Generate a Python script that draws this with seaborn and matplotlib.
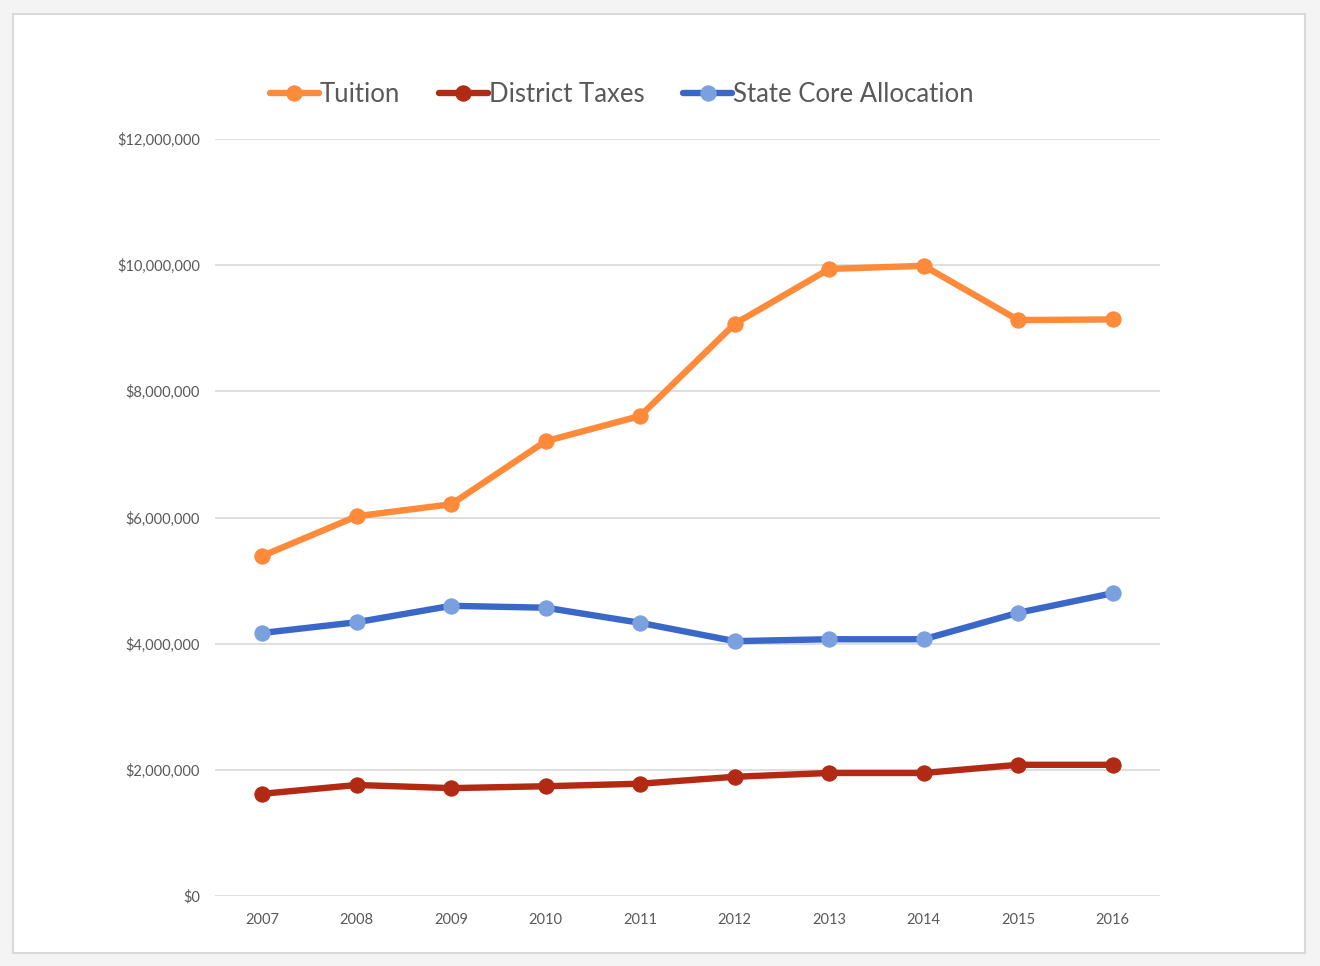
import matplotlib
matplotlib.use("Agg")
import matplotlib.pyplot as plt
import matplotlib.patches as mpatches
from matplotlib.ticker import FuncFormatter
import numpy as np
import pandas as pd
import seaborn as sns

# Data
years = [2007, 2008, 2009, 2010, 2011, 2012, 2013, 2014, 2015, 2016]
tuition = [5.39e6, 6.02e6, 6.21e6, 7.21e6, 7.61e6, 9.07e6, 9.94e6, 9.99e6, 9.13e6, 9.14e6]
district_taxes = [1.62e6, 1.76e6, 1.71e6, 1.74e6, 1.78e6, 1.89e6, 1.95e6, 1.95e6, 2.08e6, 2.08e6]
state_core = [4.17e6, 4.34e6, 4.60e6, 4.57e6, 4.33e6, 4.04e6, 4.07e6, 4.07e6, 4.49e6, 4.80e6]

series_names = ["Tuition", "District Taxes", "State Core Allocation"]
line_colors = ["#FF8A3A", "#B32A14", "#3A68C8"]
marker_colors = ["#FF8A3A", "#B32A14", "#7BA0E0"]

df = pd.DataFrame({
    "Year": years * 3,
    "Amount": tuition + district_taxes + state_core,
    "Series": sum([[n] * len(years) for n in series_names], []),
})

sns.set_theme(style="white")
plt.rcParams["font.family"] = ["Lato", "DejaVu Sans"]

fig = plt.figure(figsize=(13.2, 9.66), dpi=100, facecolor="#f4f4f4")
# white chart panel with thin grey border
fig.patches.append(mpatches.Rectangle(
    (13 / 1320, 1 - 953 / 966), (1305 - 13) / 1320, (953 - 14) / 966,
    transform=fig.transFigure, facecolor="white", edgecolor="#d9d9d9",
    linewidth=1.5, zorder=-5))

ax = fig.add_axes([215 / 1320, 1 - 896 / 966, (1160 - 215) / 1320, (896 - 139) / 966])
ax.set_facecolor("none")

for name, lc, mc in zip(series_names, line_colors, marker_colors):
    sns.lineplot(
        data=df[df["Series"] == name], x="Year", y="Amount",
        ax=ax, color=lc, linewidth=4.6, marker="o", markersize=11,
        markerfacecolor=mc, markeredgecolor=mc, label=name, zorder=3,
    )

ax.set_xlim(2006.5, 2016.5)
ax.set_ylim(0, 12e6)
ax.set_xticks(years)
ax.set_yticks(np.arange(0, 12e6 + 1, 2e6))
ax.yaxis.set_major_formatter(FuncFormatter(lambda v, _: f"${v:,.0f}"))
ax.grid(axis="y", color="#d9d9d9", linewidth=1.2)
ax.grid(axis="x", visible=False)
for s in ax.spines.values():
    s.set_visible(False)
ax.tick_params(axis="both", length=0, labelsize=10.5, labelcolor="#595959")
ax.tick_params(axis="y", pad=11)
ax.tick_params(axis="x", pad=12)
ax.set_xlabel("")
ax.set_ylabel("")

ax.legend(
    loc="center", bbox_to_anchor=(622 / 1320, 1 - 94 / 966),
    bbox_transform=fig.transFigure, ncol=3, frameon=False,
    fontsize=18.5, labelcolor="#595959", handlelength=1.9,
    handletextpad=0.05, columnspacing=1.5,
)

fig.savefig("out.png", dpi=100, facecolor=fig.get_facecolor())
